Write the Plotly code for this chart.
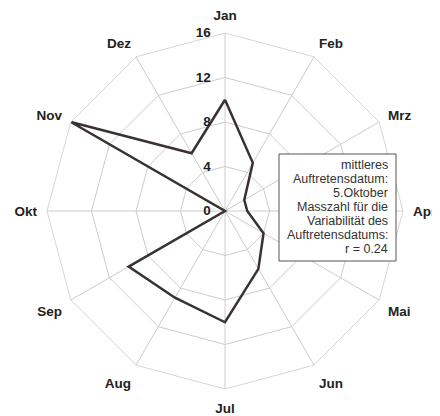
import plotly.graph_objects as go

months = ["Jan", "Feb", "Mrz", "Apr", "Mai", "Jun", "Jul", "Aug", "Sep", "Okt", "Nov", "Dez"]
counts = [10, 5, 2, 2, 4, 6, 10, 9, 10, 0, 16, 6]
radial_ticks = [0, 4, 8, 12, 16]
box_lines = ["mittleres", "Auftretensdatum:", "5.Oktober", "Masszahl für die",
             "Variabilität des", "Auftretensdatums:", "r = 0.24"]

W, H = 440, 416
OFF = 8  # page body margin offset


def px(x):
    return (x - OFF) / W


def py(y):
    return 1 - (y - OFF) / H


fig = go.Figure()
fig.add_trace(go.Scatterpolar(
    r=counts + counts[:1],
    theta=months + months[:1],
    mode="lines",
    line=dict(color="#3a3131", width=2.5),
    showlegend=False,
))

annotations = []
for i, line in enumerate(box_lines):
    annotations.append(dict(
        text=line, xref="paper", yref="paper",
        x=px(390), y=py(165 + 14 * i), xanchor="right", yanchor="middle",
        align="right", showarrow=False,
        font=dict(size=12.5, color="#333333"),
    ))

fig.update_layout(
    width=W, height=H,
    margin=dict(l=0, r=0, t=0, b=0),
    paper_bgcolor="white",
    font=dict(family="Arial, Liberation Sans, sans-serif", color="#222222"),
    polar=dict(
        domain=dict(x=[px(47), px(403)], y=[py(389), py(33)]),
        bgcolor="white",
        gridshape="linear",
        angularaxis=dict(
            direction="clockwise", rotation=90,
            categoryorder="array", categoryarray=months,
            showline=True, linecolor="#cccccc", linewidth=0.8,
            gridcolor="#cccccc", gridwidth=0.8,
            ticks="outside", ticklen=7, tickcolor="rgba(0,0,0,0)",
            tickfont=dict(size=13.5, color="#222222", weight="bold"),
        ),
        radialaxis=dict(
            range=[0, 16], tickvals=radial_ticks,
            angle=90, tickangle=90, side="counterclockwise",
            showline=False, gridcolor="#cccccc", gridwidth=0.8,
            ticks="outside", ticklen=9, tickcolor="rgba(0,0,0,0)",
            tickfont=dict(size=13.5, color="#222222", weight="bold"),
        ),
    ),
    shapes=[dict(
        type="rect", xref="paper", yref="paper",
        x0=px(279), x1=px(396), y0=py(261), y1=py(154),
        line=dict(color="#555555", width=1), fillcolor="white", layer="above",
    )],
    annotations=annotations,
)

fig.write_html("out.html")
